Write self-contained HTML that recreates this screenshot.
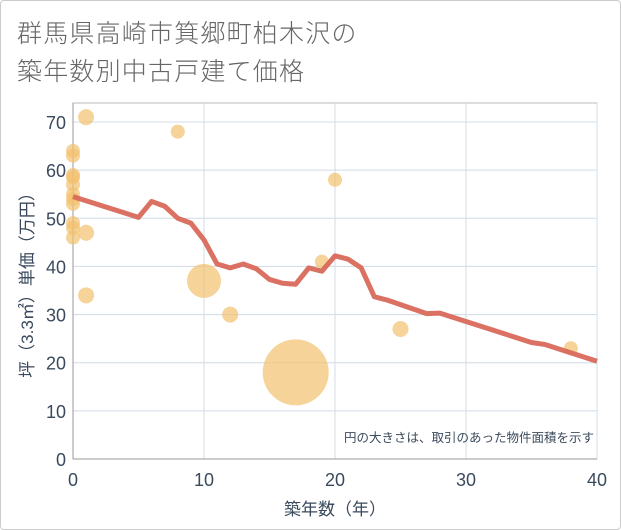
<!DOCTYPE html>
<html><head><meta charset="utf-8"><style>
body{margin:0;background:#fff;font-family:"Liberation Sans","Noto Sans CJK JP",sans-serif}
#wrap{position:relative;width:619px;height:528px;border:1px solid #ccc;border-radius:4px;background:#fff}
.title{position:absolute;left:16px;font-size:25px;color:#666;letter-spacing:1.2px;font-weight:300}
</style></head><body>
<div id="wrap">
<div class="title" style="top:13px">群馬県高崎市箕郷町柏木沢の</div>
<div class="title" style="top:51px">築年数別中古戸建て価格</div>
<svg id="chart" width="621" height="530" style="position:absolute;left:-1px;top:-1px"></svg>
</div>
<script>
const xTicks=[0,10,20,30,40];
const yTicks=[0,10,20,30,40,50,60,70];
const lineX=[0,5,6,7,8,9,10,11,12,13,14,15,16,17,18,19,20,21,22,23,24,27,28,35,36,40];
const lineY=[54.5,50.2,53.5,52.5,50,49,45.5,40.5,39.7,40.5,39.5,37.3,36.5,36.3,39.7,39,42.2,41.5,39.7,33.7,33,30.2,30.3,24.2,23.8,20.3];
const ptX=[0,0,0,0,0,0,0,0,0,0,0,1,1,1,8,10,12,17,19,20,25,38];
const ptY=[64,63,59,58.5,57,55,54,53,49,48,46,71,47,34,68,37,30,18,41,58,27,23];
const ptR=[7,7,7,7,7,7,7,7,7,7,7,8,8,8,7,17,8,33,7,7,8,7];
const X0=73,X1=597,Y0=459,Y1=103;
const sx=v=>X0+(v-0)/40*(X1-X0);
const sy=v=>Y0-v/70*(Y0-122);
const svg=document.getElementById('chart');
const NS='http://www.w3.org/2000/svg';
function mk(t,a,p){const e=document.createElementNS(NS,t);for(const k in a)e.setAttribute(k,a[k]);(p||svg).appendChild(e);return e;}
const bg=mk('rect',{x:X0,y:Y1,width:X1-X0,height:Y0-Y1,fill:'#fff',stroke:'#bbb'});


xTicks.forEach(t=>{
 const l=mk('line',{x1:sx(t),x2:sx(t),y1:Y1,y2:Y0,stroke:'#d0dce6','stroke-width':1});
 
 
 const tx=mk('text',{x:sx(t),y:Y0+27,'text-anchor':'middle','font-size':18,fill:'#3a4a5c'});
 tx.textContent=t;
 
 
});
yTicks.forEach(t=>{
 const l=mk('line',{x1:X0,x2:X1,y1:sy(t),y2:sy(t),stroke:'#d0dce6','stroke-width':1});
 
 
 const tx=mk('text',{x:X0-7,y:sy(t)+7,'text-anchor':'end','font-size':18,fill:'#3a4a5c'});
 tx.textContent=t;
 
 
});
mk('line',{x1:X0,x2:X0,y1:Y1,y2:Y0,stroke:'#999'});
mk('line',{x1:X0,x2:X1,y1:Y0,y2:Y0,stroke:'#999'});
ptX.forEach((v,i)=>{
 const c=mk('circle',{cx:sx(v),cy:sy(ptY[i]),r:ptR[i],fill:'#f2c06e','fill-opacity':0.7});
 
 
});
const pl=mk('polyline',{points:lineX.map((v,i)=>sx(v)+','+sy(lineY[i])).join(' '),fill:'none',stroke:'#d9695a','stroke-width':5,'stroke-linejoin':'round','stroke-opacity':0.95});


const note=mk('text',{x:X1-3,y:Y0-17,'text-anchor':'end','font-size':12.5,fill:'#3a4a5c'});
note.textContent='円の大きさは、取引のあった物件面積を示す';


const xt=mk('text',{x:(X0+X1)/2,y:515,'text-anchor':'middle','font-size':17,fill:'#3a4a5c'});
xt.textContent='築年数（年）';


const yt=mk('text',{x:0,y:0,'text-anchor':'middle','font-size':17,fill:'#3a4a5c',transform:'translate(33,'+((Y0+Y1)/2)+') rotate(-90)'});
yt.textContent='坪（3.3㎡）単価（万円）';


</script>
</body></html>
